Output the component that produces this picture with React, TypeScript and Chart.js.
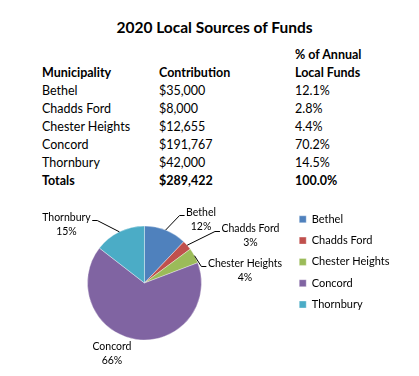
import React, { useEffect, useRef } from 'react';
import { Chart, registerables } from 'chart.js';

Chart.register(...registerables);

const TITLE = '2020 Local Sources of Funds';
const HEADER_TOP = ['', '', '% of Annual'];
const HEADER = ['Municipality', 'Contribution', 'Local Funds'];
const MUNICIPALITIES = ['Bethel', 'Chadds Ford', 'Chester Heights', 'Concord', 'Thornbury'];
const CONTRIBUTIONS = [35000, 8000, 12655, 191767, 42000];
const CONTRIBUTION_TEXT = ['$35,000', '$8,000', '$12,655', '$191,767', '$42,000'];
const SHARE_TEXT = ['12.1%', '2.8%', '4.4%', '70.2%', '14.5%'];
const TOTALS = ['Totals', '$289,422', '100.0%'];
const COLORS = ['#4F81BD', '#C0504D', '#9BBB59', '#8064A2', '#4BACC6'];

const FONT = 'Lato, "Open Sans", sans-serif';

const COL_X = [42, 159, 295];
const TITLE_X = 214.5;
const TITLE_Y = 27;
const ROW_Y0 = 54;
const ROW_H = 18;

// offsets of each data label block from the slice's outer mid-point
const LABEL_LAYOUT = [
  { dx: 35.4, dy: -10.6, leader: true },
  { dx: 63.3, dy: -9.5, leader: true },
  { dx: 50.5, dy: 14.6, leader: true },
  { dx: -24.1, dy: 14.1, leader: false },
  { dx: -52.9, dy: -7.1, leader: true },
];

const pieLabelPlugin = {
  id: 'pieLabels',
  afterDatasetsDraw(chart: any) {
    const ctx = chart.ctx as CanvasRenderingContext2D;
    const meta = chart.getDatasetMeta(0);
    const data = chart.data.datasets[0].data as number[];
    const total = data.reduce((a, b) => a + b, 0);
    ctx.save();
    ctx.font = `10.5px ${FONT}`;
    ctx.fillStyle = '#000';
    ctx.strokeStyle = '#000';
    ctx.lineWidth = 1;
    ctx.textAlign = 'center';
    ctx.textBaseline = 'middle';
    meta.data.forEach((el: any, i: number) => {
      const p = el.getProps(['x', 'y', 'startAngle', 'endAngle', 'outerRadius'], true);
      const mid = (p.startAngle + p.endAngle) / 2;
      const ax = p.x + Math.cos(mid) * p.outerRadius;
      const ay = p.y + Math.sin(mid) * p.outerRadius;
      const L = LABEL_LAYOUT[i];
      const cx = ax + L.dx;
      const cy = ay + L.dy;
      const name = String(chart.data.labels[i]);
      const pct = Math.round((data[i] / total) * 100) + '%';
      const y1 = cy - 7;
      const y2 = cy + 7;
      ctx.fillText(name, cx, y1);
      ctx.fillText(pct, cx, y2);
      if (L.leader) {
        const w = ctx.measureText(name).width;
        const right = L.dx > 0;
        const ex = right ? cx - w / 2 - 1.5 : cx + w / 2 + 1.5;
        const ey = Math.round(y1 + 2.5) + 0.5;
        const bx = right ? ex - 5 : ex + 5;
        ctx.beginPath();
        ctx.moveTo(ax, ay);
        ctx.lineTo(bx, ey);
        ctx.lineTo(ex, ey);
        ctx.stroke();
      }
    });
    ctx.restore();
  },
};

function T(props: { x: number; y: number; bold?: boolean; size: number; center?: boolean; children: React.ReactNode }) {
  return (
    <div
      style={{
        position: 'absolute',
        left: props.x,
        top: props.y,
        transform: props.center ? 'translate(-50%,-50%)' : 'translateY(-50%)',
        fontSize: props.size,
        fontWeight: props.bold ? 700 : 400,
        lineHeight: 1.2,
        whiteSpace: 'nowrap',
      }}
    >
      {props.children}
    </div>
  );
}

export default function App() {
  const ref = useRef<HTMLCanvasElement>(null);
  useEffect(() => {
    const chart = new Chart(ref.current!, {
      type: 'pie',
      data: {
        labels: MUNICIPALITIES,
        datasets: [
          {
            data: CONTRIBUTIONS,
            backgroundColor: COLORS,
            borderColor: 'rgba(255,255,255,0.35)',
            borderWidth: 1,
            radius: 57,
          } as any,
        ],
      },
      options: {
        animation: false,
        responsive: false,
        layout: { padding: { top: 13.5, bottom: 13.5, left: 0, right: 19.5 } },
        plugins: {
          legend: {
            position: 'right',
            align: 'start',
            labels: {
              boxWidth: 7,
              boxHeight: 7,
              padding: 10.3,
              color: '#000',
              font: { family: FONT, size: 11 },
            },
          },
          tooltip: { enabled: false },
        },
      },
      plugins: [pieLabelPlugin],
    });
    return () => chart.destroy();
  }, []);

  const TS = 12.5;
  return (
    <div
      style={{
        position: 'fixed',
        left: 0,
        top: 0,
        width: 419,
        height: 376,
        background: '#fff',
        color: '#000',
        fontFamily: FONT,
        overflow: 'hidden',
      }}
    >
      <T x={TITLE_X} y={TITLE_Y} size={15.5} bold center>
        {TITLE}
      </T>
      {HEADER_TOP.map((h, c) => (h ? <T key={'ht' + c} x={COL_X[c]} y={ROW_Y0} size={TS} bold>{h}</T> : null))}
      {HEADER.map((h, c) => (
        <T key={'h' + c} x={COL_X[c]} y={ROW_Y0 + ROW_H} size={TS} bold>
          {h}
        </T>
      ))}
      {MUNICIPALITIES.map((m, r) => {
        const y = ROW_Y0 + ROW_H * (r + 2);
        return (
          <React.Fragment key={m}>
            <T x={COL_X[0]} y={y} size={TS}>{m}</T>
            <T x={COL_X[1]} y={y} size={TS}>{CONTRIBUTION_TEXT[r]}</T>
            <T x={COL_X[2]} y={y} size={TS}>{SHARE_TEXT[r]}</T>
          </React.Fragment>
        );
      })}
      {TOTALS.map((t, c) => (
        <T key={'t' + c} x={COL_X[c]} y={ROW_Y0 + ROW_H * 7} size={TS} bold>
          {t}
        </T>
      ))}
      <canvas ref={ref} width={419} height={186} style={{ position: 'absolute', left: 0, top: 190, width: 419, height: 186 }} />
    </div>
  );
}
